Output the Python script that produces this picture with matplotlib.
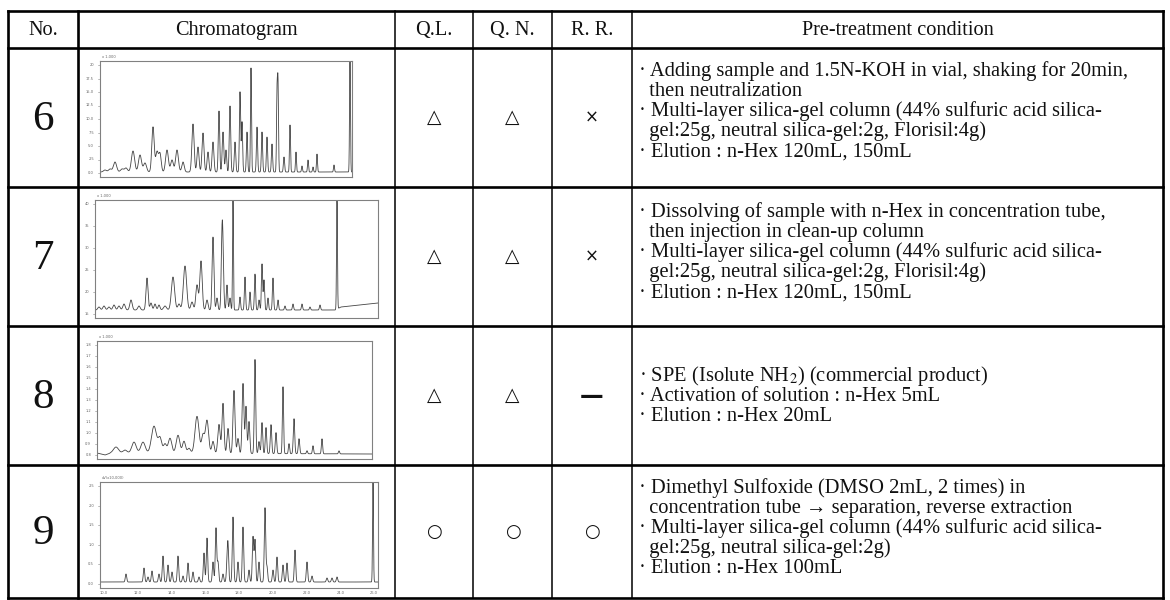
import numpy as np
import matplotlib
matplotlib.use("Agg")
import matplotlib.pyplot as plt

plt.rcParams["font.family"] = ["Liberation Serif", "DejaVu Serif"]
plt.rcParams["mathtext.fontset"] = "stix"

# ---- table content ----
HEADERS = ["No.", "Chromatogram", "Q.L.", "Q. N.", "R. R.", "Pre-treatment condition"]
SAMPLE_NO = ["6", "7", "8", "9"]
QL = ["\u25b3", "\u25b3", "\u25b3", "\u25cb"]
QN = ["\u25b3", "\u25b3", "\u25b3", "\u25cb"]
RR = ["\u00d7", "\u00d7", "\u2014", "\u25cb"]

CONDITIONS = [
    ["\u00b7 Adding sample and 1.5N-KOH in vial, shaking for 20min,",
     "  then neutralization",
     "\u00b7 Multi-layer silica-gel column (44% sulfuric acid silica-",
     "  gel:25g, neutral silica-gel:2g, Florisil:4g)",
     "\u00b7 Elution : n-Hex 120mL, 150mL"],
    ["\u00b7 Dissolving of sample with n-Hex in concentration tube,",
     "  then injection in clean-up column",
     "\u00b7 Multi-layer silica-gel column (44% sulfuric acid silica-",
     "  gel:25g, neutral silica-gel:2g, Florisil:4g)",
     "\u00b7 Elution : n-Hex 120mL, 150mL"],
    ["\u00b7 SPE (Isolute NH$_2$) (commercial product)",
     "\u00b7 Activation of solution : n-Hex 5mL",
     "\u00b7 Elution : n-Hex 20mL"],
    ["\u00b7 Dimethyl Sulfoxide (DMSO 2mL, 2 times) in",
     "  concentration tube \u2192 separation, reverse extraction",
     "\u00b7 Multi-layer silica-gel column (44% sulfuric acid silica-",
     "  gel:25g, neutral silica-gel:2g)",
     "\u00b7 Elution : n-Hex 100mL"],
]

# ---- chromatogram peaks (retention position, height, width) ----
PEAK_POS_6 = [5, 10, 15, 22, 26, 33, 40, 45, 53, 57, 60, 67, 72, 77, 83, 93, 98, 103, 108, 113,
              119, 123, 126, 130, 135, 140, 142, 147, 151, 157, 162, 167, 172, 177, 178, 184,
              190, 196, 202, 208, 213, 217, 234, 250]
PEAK_H_6 = [2, 3, 10, 3, 4, 21, 17, 9, 45, 20, 18, 22, 12, 22, 10, 48, 25, 39, 20, 30,
            61, 40, 22, 66, 30, 80, 50, 40, 104, 45, 40, 35, 28, 75, 85, 15,
            47, 20, 6, 12, 5, 18, 7, 111]
PEAK_W_6 = [1.5, 1.5, 1.6, 1.5, 1.5, 1.6, 1.5, 1.5, 1.2, 1.3, 1.2, 1.4, 1.3, 1.4, 1.2, 1.1, 1.0, 1.0, 0.9, 0.9,
            0.7, 0.8, 0.7, 0.7, 0.7, 0.6, 0.6, 0.6, 0.5, 0.6, 0.6, 0.6, 0.6, 0.5, 0.5, 0.6,
            0.5, 0.5, 0.5, 0.5, 0.5, 0.5, 0.5, 0.45]

PEAK_POS_7 = [4, 9, 14, 19, 24, 29, 36, 44, 52, 56, 60, 64, 70, 78, 84, 90, 97, 102, 106, 112,
              118, 122, 127, 128, 132, 135, 138, 145, 150, 155, 160, 164, 167, 169, 173, 178,
              183, 190, 198, 207, 215, 225, 242]
PEAK_H_7 = [3, 4, 3, 5, 4, 6, 10, 4, 32, 7, 6, 5, 4, 33, 6, 44, 8, 25, 49, 10,
            73, 12, 66, 42, 25, 12, 110, 13, 33, 18, 36, 10, 46, 30, 12, 32,
            10, 4, 6, 6, 3, 5, 110]
PEAK_W_7 = [1.2, 1.2, 1.2, 1.2, 1.2, 1.2, 1.2, 1.2, 1.0, 1.0, 1.0, 1.0, 1.5, 1.6, 1.2, 1.6, 1.2, 1.2, 1.2, 1.0,
            0.9, 0.8, 0.8, 0.8, 0.7, 0.7, 0.45, 0.6, 0.6, 0.6, 0.6, 0.6, 0.6, 0.6, 0.6, 0.6,
            0.6, 0.6, 0.6, 0.6, 0.6, 0.6, 0.45]
BASE_T_7 = [0, 240, 246, 283]
BASE_Y_7 = [8, 8, 11, 15]

PEAK_POS_8 = [19, 28, 37, 46, 57, 63, 68, 73, 81, 87, 92, 100, 106, 110, 116, 122, 126, 131, 137, 141,
              146, 149, 152, 158, 162, 165, 169, 174, 179, 186, 192, 197, 202, 210, 216, 225, 242]
PEAK_H_8 = [6, 3, 11, 11, 27, 15, 9, 15, 18, 12, 5, 37, 18, 33, 12, 29, 50, 25, 63, 15,
            70, 47, 32, 94, 12, 31, 26, 29, 21, 67, 10, 35, 15, 3, 8, 15, 3]
PEAK_W_8 = [2.5, 2.0, 2.2, 2.2, 2.5, 1.8, 1.5, 1.8, 1.8, 1.5, 1.5, 2.0, 1.4, 1.6, 1.2, 1.2, 1.0, 1.0, 1.0, 0.9,
            0.9, 0.8, 0.8, 0.7, 0.7, 0.7, 0.7, 0.7, 0.7, 0.6, 0.6, 0.7, 0.7, 0.6, 0.6, 0.6, 0.6]
BASE_T_8 = [0, 8, 14, 275]
BASE_Y_8 = [6, 4, 6, 5]

PEAK_POS_9 = [26, 44, 48, 52, 59, 63, 68, 72, 78, 83, 88, 93, 99, 104, 107, 113, 116, 118, 123, 127,
              128, 133, 138, 143, 149, 153, 155, 159, 165, 167, 173, 177, 183, 187, 195, 207,
              212, 227, 232, 237, 273]
PEAK_H_9 = [8, 14, 5, 11, 8, 26, 17, 10, 26, 6, 19, 10, 5, 29, 44, 20, 54, 20, 8, 15,
            35, 65, 20, 55, 12, 45, 42, 20, 74, 15, 12, 25, 17, 19, 32, 20,
            6, 4, 4, 5, 100]
PEAK_W_9 = [0.7] * 40 + [0.45]

SERIES = [
    (PEAK_POS_6, PEAK_H_6, PEAK_W_6, [0, 252], [5, 5]),
    (PEAK_POS_7, PEAK_H_7, PEAK_W_7, BASE_T_7, BASE_Y_7),
    (PEAK_POS_8, PEAK_H_8, PEAK_W_8, BASE_T_8, BASE_Y_8),
    (PEAK_POS_9, PEAK_H_9, PEAK_W_9, [0, 278], [6, 6]),
]
Y_TICKS = [
    ["20", "17.5", "15.0", "12.5", "10.0", "7.5", "5.0", "2.5", "0.0"],
    ["40", "35", "30", "25", "20", "15"],
    ["1.8", "1.7", "1.6", "1.5", "1.4", "1.3", "1.2", "1.1", "1.0", "0.9", "0.8"],
    ["2.5", "2.0", "1.5", "1.0", "0.5", "0.0"],
]
X_TICKS_9 = ["10.0", "12.0", "14.0", "16.0", "18.0", "20.0", "22.0", "24.0", "26.0"]

# ---- layout (pixels) ----
W, H = 1170, 600
COL_X = [8, 78, 395, 473, 552, 632, 1163]
ROW_Y = [11, 48, 187, 326, 465, 598]
CHROM_BOX = [(100, 61, 352, 177), (95, 200, 378, 318), (97, 341, 372, 459), (100, 482, 378, 588)]
TEXT_Y0 = [71, 212, 376, 488]
LINE_H = 20.2

fig = plt.figure(figsize=(W / 100, H / 100), dpi=100)
ax = fig.add_axes([0, 0, 1, 1])
ax.set_xlim(0, W)
ax.set_ylim(H, 0)
ax.axis("off")

# grid lines
for y in ROW_Y:
    ax.plot([COL_X[0], COL_X[-1]], [y, y], color="black", lw=1.9, solid_capstyle="projecting")
for i, x in enumerate(COL_X):
    lw = 1.9 if i in (0, 1, len(COL_X) - 1) else 1.1
    ax.plot([x, x], [ROW_Y[0], ROW_Y[-1]], color="black", lw=lw, solid_capstyle="projecting")

# header
for i, h in enumerate(HEADERS):
    ax.text((COL_X[i] + COL_X[i + 1]) / 2, (ROW_Y[0] + ROW_Y[1]) / 2 + 1, h,
            ha="center", va="center", fontsize=14.6, color="#111")

for r in range(4):
    yc = (ROW_Y[r + 1] + ROW_Y[r + 2]) / 2
    ax.text((COL_X[0] + COL_X[1]) / 2, yc + 2, SAMPLE_NO[r], ha="center", va="center",
            fontsize=31, color="#111")
    for c, vals in zip((2, 3, 4), (QL, QN, RR)):
        s = vals[r]
        fs = {"\u25cb": 13, "\u25b3": 13.5, "\u00d7": 12, "\u2014": 17}[s]
        ax.text((COL_X[c] + COL_X[c + 1]) / 2, yc, s, ha="center", va="center",
                fontsize=fs, color="#111", family="DejaVu Sans",
                fontweight="bold" if s == "\u2014" else "normal")
    for k, line in enumerate(CONDITIONS[r]):
        ax.text(COL_X[5] + 7, TEXT_Y0[r] + k * LINE_H, line, ha="left", va="center",
                fontsize=14.8, color="#111")

# chromatograms
for r, (pos, hts, wid, bt, by) in enumerate(SERIES):
    x0, y0, x1, y1 = CHROM_BOX[r]
    cw, ch = x1 - x0, y1 - y0
    cax = fig.add_axes([x0 / W, 1 - y1 / H, cw / W, ch / H])
    t = np.linspace(0, cw, 3000)
    sig = np.interp(t, bt, by)
    for p, h, w in zip(pos, hts, wid):
        sig = sig + h * np.exp(-0.5 * ((t - p) / w) ** 2)
    cax.plot(t, np.minimum(sig, ch - 0.5), color="#444444", lw=0.6)
    cax.set_xlim(0, cw)
    cax.set_ylim(0, ch)
    cax.set_xticks([])
    cax.set_yticks([])
    for sp in cax.spines.values():
        sp.set_color("#808080")
        sp.set_linewidth(0.8)
    labels = Y_TICKS[r]
    for k, lab in enumerate(labels):
        yy = y0 + 4 + k * (ch - 8) / (len(labels) - 1)
        ax.text(x0 - 6, yy, lab, ha="right", va="center", fontsize=2.6,
                color="#666", family="DejaVu Sans")
        ax.plot([x0 - 2, x0], [yy, yy], color="#888", lw=0.4)
    ax.text(x0 + 2, y0 - 2, "x 1,000" if r < 3 else "uV(x10,000)", ha="left", va="bottom",
            fontsize=2.6, color="#666", family="DejaVu Sans")
    if r == 3:
        for k, lab in enumerate(X_TICKS_9):
            xx = x0 + 4 + k * (cw - 8) / (len(X_TICKS_9) - 1)
            ax.text(xx, y1 + 5, lab, ha="center", va="center", fontsize=2.6,
                    color="#666", family="DejaVu Sans")

fig.savefig("out.png", dpi=100)
